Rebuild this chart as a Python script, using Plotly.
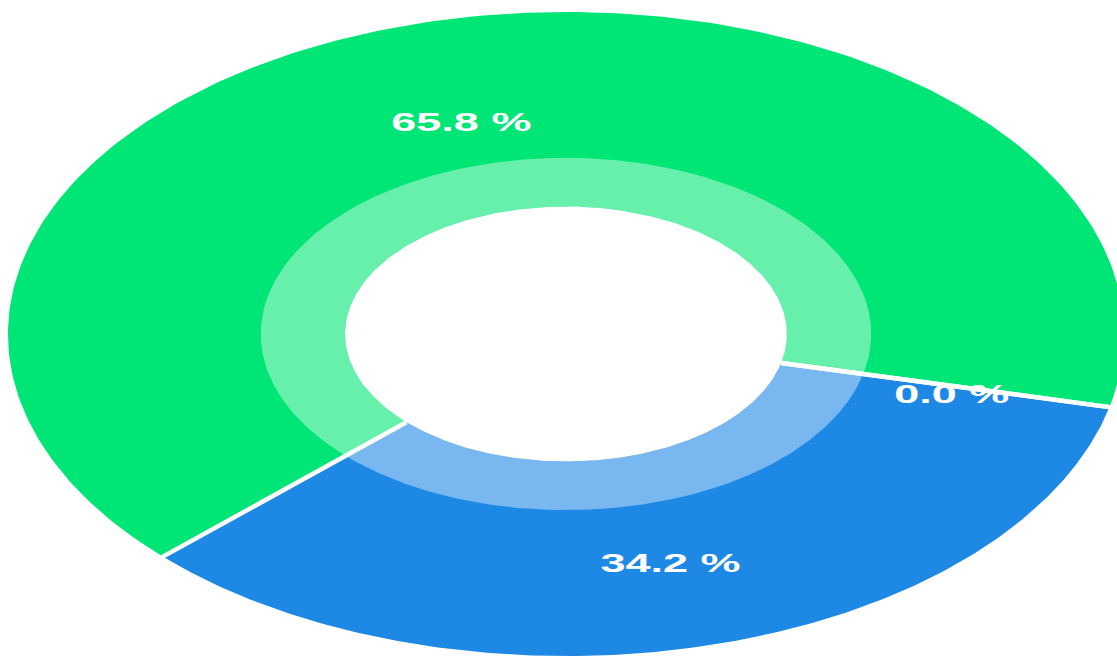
import numpy as np
import plotly.graph_objects as go

# ---------------- data ----------------
categories = ["Segment A", "Segment B", "Segment C"]
values = [65.8, 0.0, 34.2]
slice_colors = ["#00E676", "#1E88E5", "#1E88E5"]

# ---------------- geometry / style ----------------
START_ANGLE = 223.75      # degrees, math convention; slices run clockwise
HOLE_R = 0.396            # inner hole radius (fraction of outer radius)
RING_R = 0.547            # outer edge of the lighter inner band
LABEL_R = 0.71
LABEL_DY = -0.035
RING_OVERLAY = "rgba(255,255,255,0.40)"
W, H = 1117, 659
X_RANGE = [-1.0143, 0.9875]
Y_RANGE = [-1.0093, 1.0373]


def arc(r, a0, a1, n=240):
    a = np.radians(np.linspace(a0, a1, n))
    return list(r * np.cos(a)), list(r * np.sin(a))


total = float(sum(values))
bounds = [START_ANGLE]
for v in values:
    bounds.append(bounds[-1] - 360.0 * v / total)

fig = go.Figure()

# main slices (annular sectors)
for i, v in enumerate(values):
    a0, a1 = bounds[i], bounds[i + 1]
    if v <= 0:
        continue
    ox, oy = arc(1.0, a0, a1)
    ix, iy = arc(HOLE_R, a1, a0)
    fig.add_trace(go.Scatter(
        x=ox + ix + [ox[0]], y=oy + iy + [oy[0]],
        mode="lines", fill="toself", fillcolor=slice_colors[i],
        line=dict(width=0, color=slice_colors[i]),
        hoverinfo="skip", name=categories[i]))

# lighter inner band (white translucent overlay per slice)
for i, v in enumerate(values):
    a0, a1 = bounds[i], bounds[i + 1]
    if v <= 0:
        continue
    ox, oy = arc(RING_R, a0, a1)
    ix, iy = arc(HOLE_R, a1, a0)
    fig.add_trace(go.Scatter(
        x=ox + ix + [ox[0]], y=oy + iy + [oy[0]],
        mode="lines", fill="toself", fillcolor=RING_OVERLAY,
        line=dict(width=0, color=RING_OVERLAY),
        hoverinfo="skip", showlegend=False))

# percentage labels
lx, ly, lt = [], [], []
for i, v in enumerate(values):
    mid = np.radians((bounds[i] + bounds[i + 1]) / 2.0)
    lx.append(LABEL_R * np.cos(mid))
    ly.append(LABEL_R * np.sin(mid) + LABEL_DY)
    lt.append(f"{100.0 * v / total:.1f} %")
fig.add_trace(go.Scatter(
    x=lx, y=ly, mode="text", text=lt, textposition="middle center",
    textfont=dict(family="Liberation Sans", size=25, color="white", weight="bold"),
    hoverinfo="skip", showlegend=False))

# white separators between slices
sx, sy = [], []
for b in bounds[:-1]:
    a = np.radians(b)
    sx += [HOLE_R * np.cos(a), 1.01 * np.cos(a), None]
    sy += [HOLE_R * np.sin(a), 1.01 * np.sin(a), None]
fig.add_trace(go.Scatter(
    x=sx, y=sy, mode="lines", line=dict(color="white", width=4.5),
    hoverinfo="skip", showlegend=False))

fig.update_layout(
    width=W, height=H, autosize=False,
    margin=dict(l=0, r=0, t=0, b=0),
    paper_bgcolor="white", plot_bgcolor="white",
    showlegend=False,
    xaxis=dict(range=X_RANGE, visible=False, fixedrange=True),
    yaxis=dict(range=Y_RANGE, visible=False, fixedrange=True),
)

post_js = """
var gd = document.getElementById('{plot_id}');
function stretchLabels(){
  gd.querySelectorAll('.textpoint text').forEach(function(t){
    t.style.transformBox = 'fill-box';
    t.style.transformOrigin = 'center';
    t.style.transform = 'scaleX(1.8)';
  });
}
stretchLabels();
gd.on('plotly_afterplot', stretchLabels);
"""

fig.write_html("out.html", post_script=post_js, config={"displayModeBar": False})
